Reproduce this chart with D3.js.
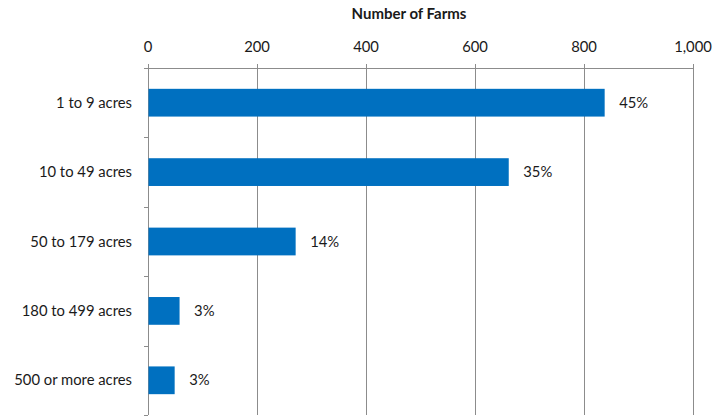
<!DOCTYPE html>
<html>
<head>
<meta charset="utf-8">
<script src="https://cdn.jsdelivr.net/npm/d3@7"></script>
<style>
  html, body { margin: 0; padding: 0; background: #fff; }
  svg text { font-family: Lato, "Open Sans", sans-serif; fill: #1a1a1a; }
</style>
</head>
<body>
<svg id="chart" width="727" height="417"></svg>
<script>
// Farms by size class
const categories = ["1 to 9 acres", "10 to 49 acres", "50 to 179 acres", "180 to 499 acres", "500 or more acres"];
const farms = [837, 661, 270, 57, 48];
const shareLabels = ["45%", "35%", "14%", "3%", "3%"];
const tickValues = [0, 200, 400, 600, 800, 1000];
const axisTitle = "Number of Farms";

const svg = d3.select("#chart");
const margin = { top: 68, right: 34, bottom: 2, left: 148 };
const width = 727, height = 417;
const fontSize = 14.8;

const x = d3.scaleLinear().domain([0, 1000]).range([margin.left, width - margin.right]);
const y = d3.scaleBand().domain(categories).range([margin.top, height - margin.bottom]).paddingInner(0.6).paddingOuter(0.3);
const band = d3.scaleBand().domain(categories).range([margin.top, height - margin.bottom]);

const gridColor = "#8c8c8c";

// vertical gridlines with short ticks above the axis
svg.append("g")
  .selectAll("line")
  .data(tickValues)
  .join("line")
  .attr("x1", d => x(d) + 0.5).attr("x2", d => x(d) + 0.5)
  .attr("y1", margin.top - 4).attr("y2", height - margin.bottom)
  .attr("stroke", gridColor).attr("stroke-width", 1);

// top axis line
svg.append("line")
  .attr("x1", x(0) - 4).attr("x2", x(1000) + 0.5)
  .attr("y1", margin.top + 0.5).attr("y2", margin.top + 0.5)
  .attr("stroke", gridColor);

// category separator ticks on the left axis
svg.append("g")
  .selectAll("line")
  .data(categories)
  .join("line")
  .attr("x1", x(0) - 4).attr("x2", x(0))
  .attr("y1", d => Math.round(band(d) + band.bandwidth()) + 0.5)
  .attr("y2", d => Math.round(band(d) + band.bandwidth()) + 0.5)
  .attr("stroke", gridColor);

// tick labels
svg.append("g")
  .selectAll("text")
  .data(tickValues)
  .join("text")
  .attr("x", d => x(d))
  .attr("y", 52)
  .attr("text-anchor", "middle")
  .attr("font-size", fontSize)
  .text(d => d3.format(",")(d));

// axis title
svg.append("text")
  .attr("x", 409)
  .attr("y", 19)
  .attr("text-anchor", "middle")
  .attr("font-size", 15)
  .attr("font-weight", "bold")
  .text(axisTitle);

// bars
svg.append("g")
  .selectAll("rect")
  .data(categories)
  .join("rect")
  .attr("x", x(0) + 0.5)
  .attr("y", d => y(d))
  .attr("width", (d, i) => x(farms[i]) - x(0))
  .attr("height", y.bandwidth())
  .attr("fill", "#0070C0");

// category labels
svg.append("g")
  .selectAll("text")
  .data(categories)
  .join("text")
  .attr("x", 132)
  .attr("y", d => y(d) + y.bandwidth() / 2)
  .attr("dy", "0.35em")
  .attr("text-anchor", "end")
  .attr("font-size", fontSize)
  .text(d => d);

// share labels
svg.append("g")
  .selectAll("text")
  .data(categories)
  .join("text")
  .attr("x", (d, i) => x(farms[i]) + 15)
  .attr("y", d => y(d) + y.bandwidth() / 2)
  .attr("dy", "0.35em")
  .attr("font-size", fontSize)
  .text((d, i) => shareLabels[i]);
</script>
</body>
</html>
